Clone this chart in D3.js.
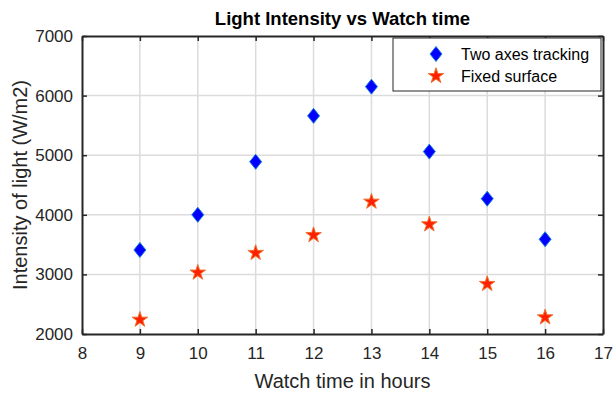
<!DOCTYPE html>
<html>
<head>
<meta charset="utf-8">
<script src="https://cdn.jsdelivr.net/npm/d3@7"></script>
<style>
  body { margin: 0; background: #fff; }
  text { font-family: "Liberation Sans", Arial, sans-serif; fill: #262626; }
</style>
</head>
<body>
<div class="chart"></div>
<script>
// Light intensity data
var hours = [9, 10, 11, 12, 13, 14, 15, 16]
var twoAxes = [3410, 4000, 4890, 5660, 6150, 5060, 4270, 3590]
var fixedSurface = [2240, 3030, 3360, 3660, 4220, 3840, 2840, 2280]
var xTicks = [8, 9, 10, 11, 12, 13, 14, 15, 16, 17]
var yTicks = [2000, 3000, 4000, 5000, 6000, 7000]
var seriesNames = ['Two axes tracking', 'Fixed surface']

var svgWidth = 613
var svgHeight = 394
var margin = { top: 36, right: 10, bottom: 60, left: 82 }
var width = svgWidth - margin.left - margin.right
var height = svgHeight - margin.top - margin.bottom

var svg = d3.select('.chart').append('svg')
    .attr('width', svgWidth)
    .attr('height', svgHeight)

var g = svg.append('g')
    .attr('transform', `translate(${margin.left}, ${margin.top})`)

var x = d3.scaleLinear().domain([8, 17]).range([0, width])
var y = d3.scaleLinear().domain([2000, 7000]).range([height, 0])

// grid
g.append('g').selectAll('line').data(xTicks.slice(1, -1)).join('line')
    .attr('x1', d => x(d)).attr('x2', d => x(d))
    .attr('y1', 0).attr('y2', height)
    .attr('stroke', '#dcdcdc').attr('stroke-width', 1.5)
g.append('g').selectAll('line').data(yTicks.slice(1, -1)).join('line')
    .attr('y1', d => y(d)).attr('y2', d => y(d))
    .attr('x1', 0).attr('x2', width)
    .attr('stroke', '#dcdcdc').attr('stroke-width', 1.5)

// axes (ticks inward, box on)
var axisColor = '#262626'
function styleAxis(sel) {
    sel.attr('font-size', 17).attr('font-family', '"Liberation Sans", Arial, sans-serif')
    sel.select('.domain').attr('stroke', axisColor).attr('stroke-width', 2)
    sel.selectAll('.tick line').attr('stroke', axisColor).attr('stroke-width', 1.5)
    sel.selectAll('.tick text').attr('fill', axisColor)
}
var fmt = d3.format('d')
g.append('g')
    .attr('transform', `translate(0, ${height})`)
    .call(d3.axisBottom(x).tickValues(xTicks).tickFormat(fmt).tickSizeInner(-5).tickSizeOuter(0).tickPadding(13))
    .call(styleAxis)
g.append('g')
    .call(d3.axisLeft(y).tickValues(yTicks).tickFormat(fmt).tickSizeInner(-5).tickSizeOuter(0).tickPadding(9))
    .call(styleAxis)
g.append('g')
    .call(d3.axisTop(x).tickValues(xTicks).tickSizeInner(-5).tickSizeOuter(0).tickFormat(''))
    .call(styleAxis)
g.append('g')
    .attr('transform', `translate(${width}, 0)`)
    .call(d3.axisRight(y).tickValues(yTicks).tickSizeInner(-5).tickSizeOuter(0).tickFormat(''))
    .call(styleAxis)

// markers
var diamond = 'M0,-7.5L6,0L0,7.5L-6,0Z'
var star = d3.symbol().type(d3.symbolStar).size(75)()

g.append('g').selectAll('path').data(hours).join('path')
    .attr('d', diamond)
    .attr('transform', (d, i) => `translate(${x(d)}, ${y(twoAxes[i])})`)
    .attr('fill', '#0000ff').attr('stroke', '#1a7fd8').attr('stroke-width', 1)

g.append('g').selectAll('path').data(hours).join('path')
    .attr('d', star)
    .attr('transform', (d, i) => `translate(${x(d)}, ${y(fixedSurface[i])})`)
    .attr('fill', '#ff2000').attr('stroke', '#f07030').attr('stroke-width', 1)

// title and labels
svg.append('text')
    .attr('x', margin.left + width / 2).attr('y', 25)
    .attr('text-anchor', 'middle')
    .attr('font-size', '18.5px').attr('font-weight', 'bold')
    .style('fill', '#000')
    .text('Light Intensity vs Watch time')

svg.append('text')
    .attr('x', margin.left + width / 2).attr('y', 388)
    .attr('text-anchor', 'middle')
    .attr('font-size', '20px')
    .text('Watch time in hours')

svg.append('text')
    .attr('transform', `translate(27, ${margin.top + height / 2}) rotate(-90)`)
    .attr('text-anchor', 'middle')
    .attr('font-size', '20px')
    .text('Intensity of light (W/m2)')

// legend
var legend = g.append('g').attr('transform', `translate(${width - 210}, 2)`)
legend.append('rect')
    .attr('width', 208).attr('height', 53)
    .attr('fill', '#fff').attr('stroke', axisColor).attr('stroke-width', 1)
legend.append('path').attr('d', diamond)
    .attr('transform', 'translate(43, 16)')
    .attr('fill', '#0000ff').attr('stroke', '#1a7fd8')
legend.append('path').attr('d', star)
    .attr('transform', 'translate(43, 38)')
    .attr('fill', '#ff2000').attr('stroke', '#f07030')
legend.selectAll('text.lbl').data(seriesNames).join('text')
    .attr('class', 'lbl')
    .attr('x', 68).attr('y', (d, i) => 22 + i * 22)
    .attr('font-size', '16px')
    .style('fill', '#000')
    .text(d => d)
</script>
</body>
</html>
